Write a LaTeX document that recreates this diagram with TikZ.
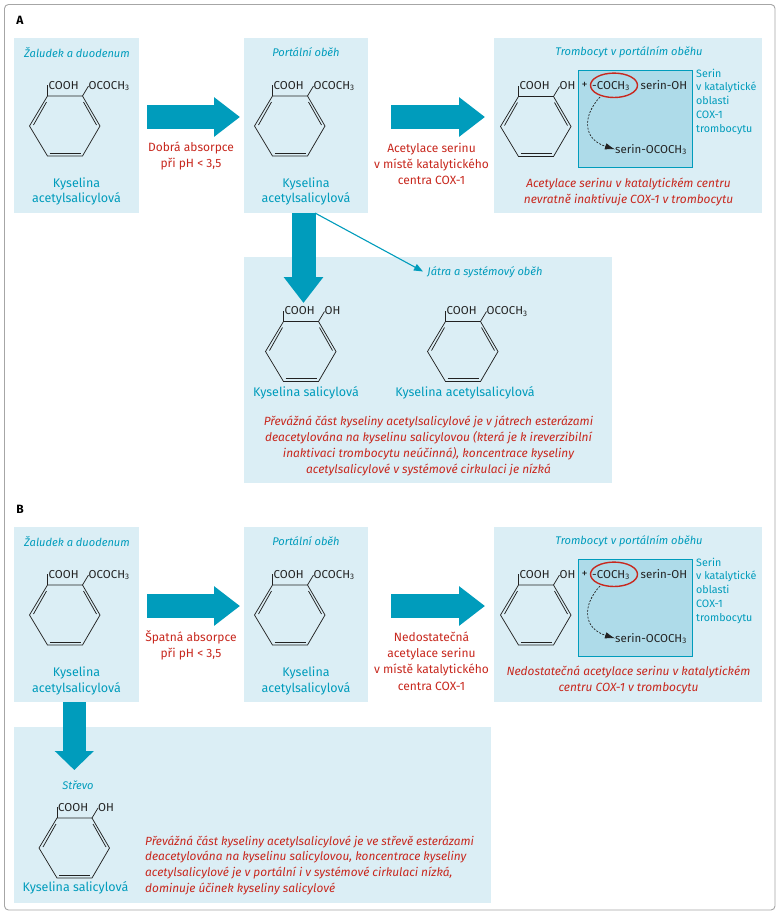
\documentclass[tikz,border=0pt]{standalone}
\usepackage{fontspec}
\setmainfont{Fira Sans}
\usetikzlibrary{arrows.meta}
\definecolor{boxbg}{HTML}{DBEEF5}
\definecolor{innerbg}{HTML}{AEDBE9}
\definecolor{teal}{HTML}{009CBC}
\definecolor{redt}{HTML}{C8281E}
\definecolor{ink}{HTML}{222222}
\newcommand{\subt}[1]{\raisebox{-0.25ex}{\fontsize{8}{8}\selectfont #1}}
\tikzset{
 panel/.style={fill=boxbg,draw=none},
 innerpanel/.style={fill=innerbg,draw=teal,line width=0.6pt},
 frame/.style={draw=black!35,line width=0.9pt,rounded corners=4pt},
 bigarrow/.style={draw=teal,line width=24pt,-{Triangle[length=26pt,width=38pt,fill=teal]}},
 stubarrow/.style={draw=teal,line width=23.5pt,-{Triangle[length=19pt,width=38pt,fill=teal]}},
 thinarrow/.style={draw=teal,line width=1.1pt,-{Triangle[length=9pt,width=7pt]}},
 ringline/.style={draw=ink,line width=0.75pt,line join=miter},
 chem/.style={text=ink,font=\fontsize{11.5}{12}\selectfont,inner sep=0pt},
 place/.style={text=teal,font=\fontsize{11.1}{14.5}\selectfont\itshape,align=center,inner sep=0pt},
 compound/.style={text=teal,font=\fontsize{12.5}{15.5}\selectfont,align=center,inner sep=0pt},
 compoundl/.style={text=teal,font=\fontsize{10.7}{13.8}\selectfont,align=left,inner sep=0pt},
 rednote/.style={text=redt,font=\fontsize{11.9}{16}\selectfont\itshape,align=center,inner sep=0pt},
 redleft/.style={text=redt,font=\fontsize{11.85}{15.8}\selectfont\itshape,align=left,inner sep=0pt},
 redlabel/.style={text=redt,font=\fontsize{12}{16.2}\selectfont,align=center,inner sep=0pt},
 panlabel/.style={text=black,font=\fontsize{12}{14}\selectfont\bfseries,inner sep=0pt},
}
% #1 name, #2 x, #3 y of the ring's top-left corner, #4 0=OCOCH3 1=OH
\newcommand{\molec}[4]{%
 \begin{scope}[shift={(#2,#3)}]
  \draw[ringline] (0,0) -- (35,0) -- (52.5,30) -- (35,60) -- (0,60) -- (-18,30) -- cycle;
  \draw[ringline] (0,0) -- (0,-11);
  \draw[ringline] (-1,6) -- (-14,29);
  \draw[ringline] (36,6) -- (49,29);
  \draw[ringline] (2,57) -- (33,57);
  \draw[ringline] (35,0) -- (41,-10);
  \node[chem,anchor=base west] (#1c) at (1,-7) {COOH};
  \ifnum#4=0
   \node[chem,anchor=base west] (#1s) at (41,-7) {OCOCH\subt{3}};
  \else
   \node[chem,anchor=base west] (#1s) at (41,-7) {OH};
  \fi
 \end{scope}}
% #1 name, #2 y offset of the inner panel top
\newcommand{\serin}[2]{%
 \begin{scope}[shift={(0,#2)}]
  \node[innerpanel,minimum width=114pt,minimum height=97pt,anchor=north west,inner sep=0pt] (#1in) at (578,70) {};
  \node[chem,font=\fontsize{12}{12}\selectfont] (#1pl) at (584.5,85) {+};
  \node[chem,anchor=base west] (#1co) at (592,89) {-COCH\subt{3}};
  \node[chem,anchor=base west] (#1so) at (640.5,89) {serin-OH};
  \node[chem,anchor=base west] (#1sa) at (615,153) {serin-OCOCH\subt{3}};
  \draw[draw=redt,line width=1.4pt] (614,85.3) ellipse [x radius=23.5,y radius=12.2];
  \coordinate (#1st) at (600,97);
  \draw[draw=ink,line width=0.7pt,dash pattern=on 2pt off 1.4pt,-{Latex[length=10pt,width=6.5pt]}] (#1st) .. controls (583,115) and (582,139) .. (#1sa.west);
  \node[compoundl,anchor=north west] (#1lab) at (696,68.5) {Serin\\v katalytické\\oblasti\\COX-1\\trombocytu};
 \end{scope}}
\begin{document}
\begin{tikzpicture}[x=1pt,y=-1pt]
\useasboundingbox (0,0) rectangle (780,916);
\fill[white] (0,0) rectangle (780,916);
\draw[frame] (4.5,4.5) rectangle (775,910);
\node[panlabel] (la) at (20,20.5) {A};
\node[panlabel] (lb) at (20,509.5) {B};
% Panels A
\path[panel] (14,38) rectangle (139,213);
\path[panel] (244,38) rectangle (368,213);
\path[panel] (494,38) rectangle (762,213);
\path[panel] (244,257) rectangle (612,483);
% Panels B
\path[panel] (14,527) rectangle (139,702);
\path[panel] (244,527) rectangle (368,702);
\path[panel] (494,527) rectangle (762,702);
\path[panel] (14,727) rectangle (491,903);
% Arrows A
\coordinate (a1s) at (147,117); \coordinate (a1e) at (240,117);
\coordinate (a2s) at (391,117); \coordinate (a2e) at (485,117);
\coordinate (a3s) at (303.5,213); \coordinate (a3e) at (303.5,303);
\coordinate (a4s) at (315,213); \coordinate (a4e) at (423,271.5);
\draw[bigarrow] (a1s) -- (a1e);
\draw[bigarrow] (a2s) -- (a2e);
\draw[bigarrow] (a3s) -- (a3e);
\draw[thinarrow] (a4s) -- (a4e);
% Arrows B
\coordinate (b1s) at (147,606); \coordinate (b1e) at (240,606);
\coordinate (b2s) at (391,606); \coordinate (b2e) at (485,606);
\coordinate (b3s) at (74.3,702); \coordinate (b3e) at (74.3,770);
\draw[bigarrow] (b1s) -- (b1e);
\draw[bigarrow] (b2s) -- (b2e);
\draw[stubarrow] (b3s) -- (b3e);
% Molecules A
\molec{ma}{47.5}{96}{0}
\molec{mb}{272.5}{96}{0}
\molec{mc}{518.5}{96.5}{1}
\molec{md}{283.5}{321.5}{1}
\molec{me}{445.5}{321.5}{0}
% Molecules B
\molec{mf}{47.5}{585}{0}
\molec{mg}{272.5}{585}{0}
\molec{mh}{518.5}{585}{1}
\molec{mi}{57}{818}{1}
\serin{sa}{0}
\serin{sb}{489}
% Text A
\node[place] (t1) at (77,52.5) {Žaludek a duodenum};
\node[place] (t2) at (306,52.5) {Portální oběh};
\node[place] (t3) at (629,52.5) {Trombocyt v portálním oběhu};
\node[compound] (t4) at (76.5,191.5) {Kyselina\\acetylsalicylová};
\node[compound] (t5) at (306,191.5) {Kyselina\\acetylsalicylová};
\node[redlabel] (t6) at (191,156) {Dobrá absorpce\\při pH < 3,5};
\node[redlabel] (t7) at (431.5,164) {Acetylace serinu\\v místě katalytického\\centra COX-1};
\node[rednote] (t8) at (628.5,191.5) {Acetylace serinu v katalytickém centru\\nevratně inaktivuje COX-1 v trombocytu};
\node[place] (t9) at (485,272) {Játra a systémový oběh};
\node[compound] (t10) at (306,393) {Kyselina salicylová};
\node[compound] (t11) at (465,393) {Kyselina acetylsalicylová};
\node[rednote] (t12) at (428.5,446) {Převážná část kyseliny acetylsalicylové je v játrech esterázami\\deacetylována na kyselinu salicylovou (která je k ireverzibilní\\inaktivaci trombocytu neúčinná), koncentrace kyseliny\\acetylsalicylové v systémové cirkulaci je nízká};
% Text B
\node[place] (u1) at (77,541.5) {Žaludek a duodenum};
\node[place] (u2) at (306,541.5) {Portální oběh};
\node[place] (u3) at (629,541.5) {Trombocyt v portálním oběhu};
\node[compound] (u4) at (76.5,681) {Kyselina\\acetylsalicylová};
\node[compound] (u5) at (306,681) {Kyselina\\acetylsalicylová};
\node[redlabel] (u6) at (191,645) {Špatná absorpce\\při pH < 3,5};
\node[redlabel] (u7) at (431.5,661) {Nedostatečná\\acetylace serinu\\v místě katalytického\\centra COX-1};
\node[rednote] (u8) at (628.5,680) {Nedostatečná acetylace serinu v katalytickém\\centru COX-1 v trombocytu};
\node[place] (u9) at (78,785) {Střevo};
\node[compound] (u10) at (75.5,888) {Kyselina salicylová};
\node[redleft,anchor=west] (u11) at (145,865.3) {Převážná část kyseliny acetylsalicylové je ve střevě esterázami\\deacetylována na kyselinu salicylovou, koncentrace kyseliny\\acetylsalicylové je v portální i v systémové cirkulaci nízká,\\dominuje účinek kyseliny salicylové};
\end{tikzpicture}
\end{document}
